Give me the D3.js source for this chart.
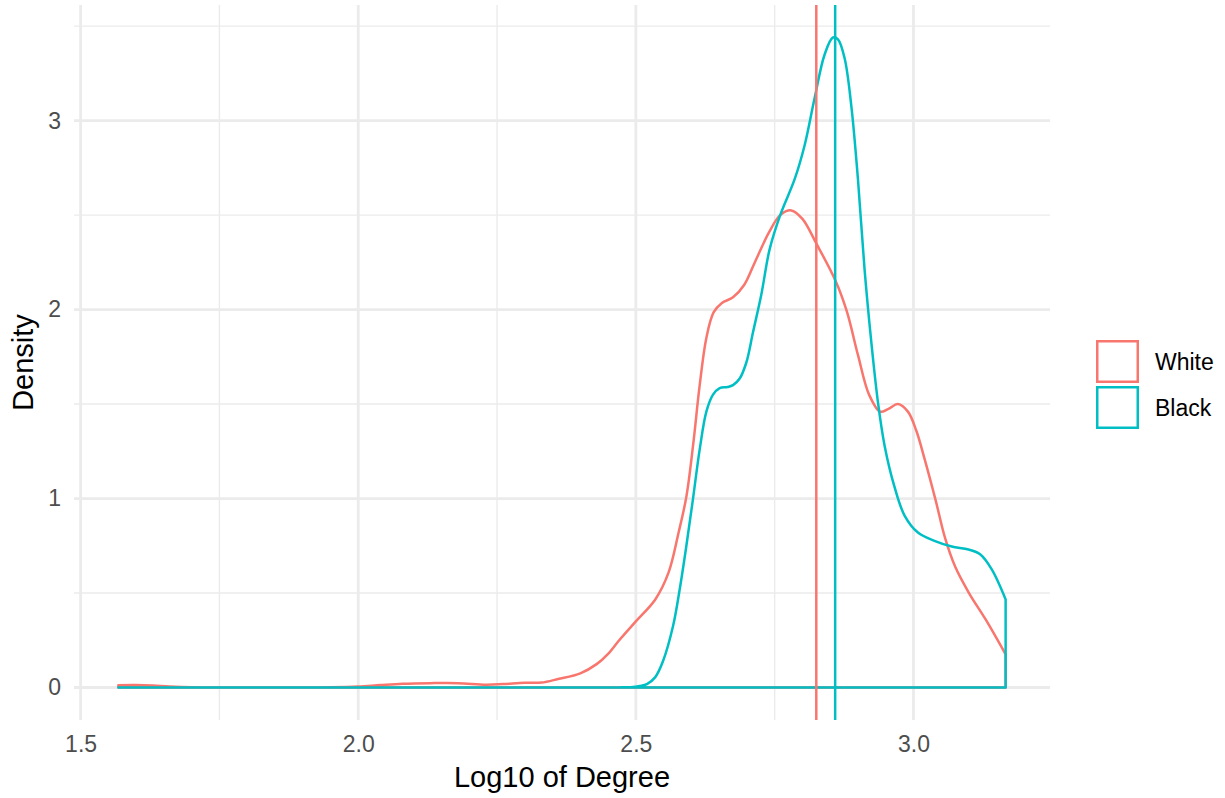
<!DOCTYPE html>
<html>
<head>
<meta charset="utf-8">
<script src="https://cdn.jsdelivr.net/npm/d3@7"></script>
<style>
  html, body { margin: 0; padding: 0; background: #ffffff; }
  svg { display: block; font-family: "Liberation Sans", Arial, sans-serif; }
</style>
</head>
<body>
<svg id="chart" width="1225" height="798"></svg>
<script>
// Kernel density estimates of log10(degree), one curve per group
const groups = ["White", "Black"];
const groupColors = ["#F8766D", "#00BFC4"];

const whiteX = [1.568, 1.60, 1.63, 1.66, 1.70, 1.75, 1.80, 1.85, 1.90, 1.95, 2.00, 2.04, 2.08, 2.13, 2.18, 2.23, 2.26, 2.30, 2.33, 2.36, 2.40, 2.43, 2.45, 2.47, 2.50, 2.535, 2.559, 2.577, 2.591, 2.603, 2.615, 2.627, 2.64, 2.655, 2.675, 2.695, 2.715, 2.74, 2.76, 2.78, 2.80, 2.825, 2.86, 2.88, 2.90, 2.92, 2.94, 2.955, 2.972, 2.99, 3.005, 3.02, 3.04, 3.057, 3.075, 3.10, 3.13, 3.166];
const whiteDensity = [0.012, 0.013, 0.010, 0.005, 0.001, 0.000, 0.000, 0.000, 0.000, 0.001, 0.005, 0.013, 0.020, 0.023, 0.023, 0.015, 0.018, 0.025, 0.026, 0.045, 0.075, 0.125, 0.178, 0.250, 0.350, 0.466, 0.609, 0.820, 1.010, 1.280, 1.600, 1.850, 1.985, 2.035, 2.065, 2.130, 2.255, 2.410, 2.500, 2.525, 2.480, 2.350, 2.150, 1.990, 1.760, 1.550, 1.460, 1.475, 1.500, 1.460, 1.360, 1.210, 0.990, 0.790, 0.640, 0.500, 0.360, 0.175];

const blackX = [1.568, 1.70, 1.90, 2.10, 2.30, 2.45, 2.47, 2.49, 2.507, 2.52, 2.535, 2.549, 2.567, 2.579, 2.591, 2.603, 2.615, 2.627, 2.639, 2.651, 2.665, 2.675, 2.687, 2.699, 2.711, 2.726, 2.741, 2.76, 2.786, 2.804, 2.822, 2.840, 2.855, 2.864, 2.876, 2.888, 2.900, 2.912, 2.924, 2.936, 2.948, 2.966, 2.984, 3.008, 3.039, 3.069, 3.099, 3.120, 3.141, 3.166];
const blackDensity = [0, 0, 0, 0, 0, 0, 0.0005, 0.002, 0.008, 0.018, 0.055, 0.14, 0.325, 0.52, 0.75, 1.0, 1.26, 1.46, 1.55, 1.585, 1.59, 1.60, 1.635, 1.72, 1.88, 2.08, 2.32, 2.50, 2.69, 2.87, 3.12, 3.35, 3.44, 3.43, 3.33, 3.08, 2.69, 2.21, 1.83, 1.51, 1.28, 1.06, 0.91, 0.82, 0.775, 0.746, 0.73, 0.705, 0.625, 0.466];

// Group means of log10(degree), drawn as vertical reference lines
const groupMeans = [2.825, 2.859];

const xTicks = [1.5, 2.0, 2.5, 3.0];
const xMinorTicks = [1.75, 2.25, 2.75];
const yTicks = [0, 1, 2, 3];
const yMinorTicks = [0.5, 1.5, 2.5, 3.5];

const series = [
  { name: groups[0], color: groupColors[0], pts: whiteX.map((x, i) => [x, whiteDensity[i]]) },
  { name: groups[1], color: groupColors[1], pts: blackX.map((x, i) => [x, blackDensity[i]]) }
];

const svg = d3.select("#chart");
const panel = { left: 74, right: 1050, top: 5, bottom: 720 };

// ggplot-style 5% expansion around the data range
const allX = whiteX.concat(blackX);
const xLo = d3.min(allX), xHi = d3.max(allX);
const xPad = (xHi - xLo) * 0.05;
const yHi = d3.max(whiteDensity.concat(blackDensity));
const yPad = yHi * 0.05;

const x = d3.scaleLinear().domain([xLo - xPad, xHi + xPad]).range([panel.left, panel.right]);
const y = d3.scaleLinear().domain([-yPad, yHi + yPad]).range([panel.bottom, panel.top]);

const grid = svg.append("g");
const gridColor = "#EBEBEB";

// minor grid
grid.selectAll(".xminor").data(xMinorTicks).join("line")
  .attr("x1", d => x(d)).attr("x2", d => x(d))
  .attr("y1", panel.top).attr("y2", panel.bottom)
  .attr("stroke", gridColor).attr("stroke-width", 1.4);
grid.selectAll(".yminor").data(yMinorTicks).join("line")
  .attr("y1", d => y(d)).attr("y2", d => y(d))
  .attr("x1", panel.left).attr("x2", panel.right)
  .attr("stroke", gridColor).attr("stroke-width", 1.4);

// major grid
grid.selectAll(".xmajor").data(xTicks).join("line")
  .attr("x1", d => x(d)).attr("x2", d => x(d))
  .attr("y1", panel.top).attr("y2", panel.bottom)
  .attr("stroke", gridColor).attr("stroke-width", 2.8);
grid.selectAll(".ymajor").data(yTicks).join("line")
  .attr("y1", d => y(d)).attr("y2", d => y(d))
  .attr("x1", panel.left).attr("x2", panel.right)
  .attr("stroke", gridColor).attr("stroke-width", 2.8);

// density outlines (closed along the baseline)
const area = d3.area()
  .x(d => x(d[0]))
  .y0(y(0))
  .y1(d => y(Math.max(0, d[1])))
  .curve(d3.curveCatmullRom.alpha(0.5));

svg.append("g").selectAll("path").data(series).join("path")
  .attr("d", d => area(d.pts))
  .attr("fill", "none")
  .attr("stroke", d => d.color)
  .attr("stroke-width", 2.5)
  .attr("stroke-linejoin", "round");

// mean lines
svg.append("g").selectAll("line").data(groupMeans).join("line")
  .attr("x1", d => x(d)).attr("x2", d => x(d))
  .attr("y1", panel.top).attr("y2", panel.bottom)
  .attr("stroke", (d, i) => groupColors[i])
  .attr("stroke-width", 2.5);

// axes (labels only, as in a minimal theme)
const xAxis = svg.append("g")
  .attr("transform", `translate(0,${panel.bottom})`)
  .call(d3.axisBottom(x).tickValues(xTicks).tickFormat(d3.format(".1f")).tickSize(0).tickPadding(16));
const yAxis = svg.append("g")
  .attr("transform", `translate(${panel.left},0)`)
  .call(d3.axisLeft(y).tickValues(yTicks).tickFormat(d3.format("d")).tickSize(0).tickPadding(13));
[xAxis, yAxis].forEach(a => {
  a.select(".domain").remove();
  a.selectAll("text")
    .attr("fill", "#4D4D4D")
    .style("font-size", "23px")
    .style("font-family", "'Liberation Sans', Arial, sans-serif");
});

// axis titles
svg.append("text")
  .attr("x", (panel.left + panel.right) / 2)
  .attr("y", 787)
  .attr("text-anchor", "middle")
  .style("font-size", "29px")
  .attr("fill", "#000")
  .text("Log10 of Degree");

svg.append("text")
  .attr("transform", `translate(33,${(panel.top + panel.bottom) / 2}) rotate(-90)`)
  .attr("text-anchor", "middle")
  .style("font-size", "29px")
  .attr("fill", "#000")
  .text("Density");

// legend
const legend = svg.append("g").attr("transform", "translate(1096,340)");
const keySize = 43;
const item = legend.selectAll("g").data(groups).join("g")
  .attr("transform", (d, i) => `translate(0,${i * (keySize + 3)})`);
item.append("rect")
  .attr("x", 1.25).attr("y", 1.25)
  .attr("width", keySize - 2.5).attr("height", keySize - 2.5)
  .attr("fill", "#ffffff")
  .attr("stroke", (d, i) => groupColors[i])
  .attr("stroke-width", 2.5);
item.append("text")
  .attr("x", 59)
  .attr("y", keySize / 2 + 8)
  .style("font-size", "23px")
  .attr("fill", "#000")
  .text(d => d);
</script>
</body>
</html>
